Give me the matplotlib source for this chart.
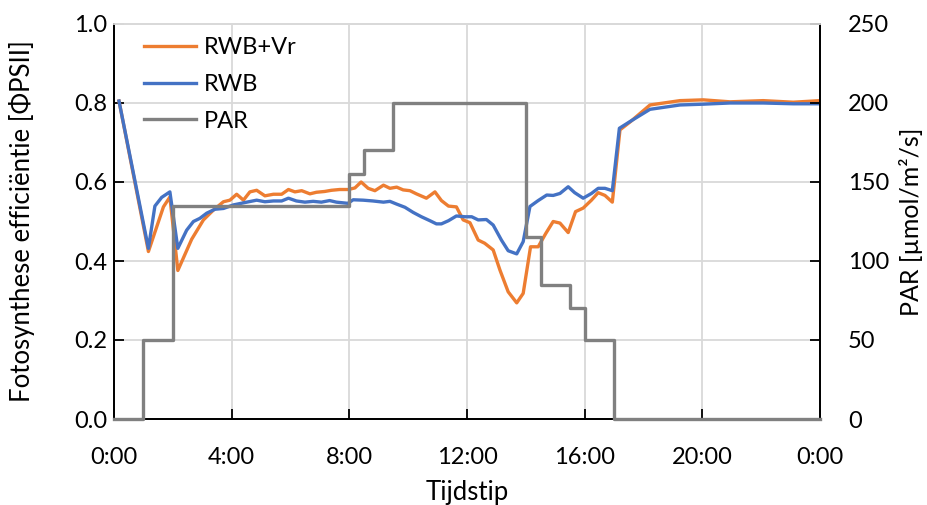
import matplotlib.pyplot as plt
from matplotlib.ticker import FixedLocator, FuncFormatter

plt.rcParams['font.family'] = ['Lato', 'DejaVu Sans']

# tijd in uren
t_vr = [0.17, 1.17, 1.68, 1.90, 2.17, 2.64, 3.04, 3.38, 3.72, 3.94, 4.17, 4.40,
        4.62, 4.85, 5.13, 5.42, 5.70, 5.93, 6.15, 6.38, 6.66, 6.88, 7.16, 7.39,
        7.67, 7.97, 8.19, 8.40, 8.64, 8.87, 9.16, 9.38, 9.61, 9.83, 10.06, 10.28,
        10.62, 10.91, 11.13, 11.37, 11.64, 11.87, 12.10, 12.38, 12.60, 12.89,
        13.12, 13.40, 13.69, 13.91, 14.16, 14.42, 14.68, 14.93, 15.16, 15.44,
        15.69, 15.95, 16.23, 16.46, 16.69, 16.94, 17.20, 17.56, 18.22, 19.24,
        20.03, 20.94, 22.07, 23.09, 24.0]
rwb_vr = [0.805, 0.424, 0.537, 0.562, 0.376, 0.455, 0.504, 0.529, 0.550, 0.554,
          0.569, 0.554, 0.575, 0.579, 0.565, 0.569, 0.569, 0.581, 0.575, 0.578,
          0.570, 0.574, 0.576, 0.579, 0.581, 0.581, 0.585, 0.600, 0.584, 0.578,
          0.592, 0.584, 0.587, 0.580, 0.578, 0.570, 0.559, 0.575, 0.553, 0.539,
          0.537, 0.504, 0.497, 0.453, 0.445, 0.428, 0.377, 0.322, 0.294, 0.318,
          0.436, 0.436, 0.470, 0.500, 0.496, 0.472, 0.525, 0.534, 0.554, 0.573,
          0.566, 0.549, 0.732, 0.753, 0.795, 0.806, 0.808, 0.803, 0.806, 0.802,
          0.806]

t_rwb = [0.17, 1.17, 1.39, 1.62, 1.90, 2.17, 2.47, 2.70, 2.92, 3.15, 3.43, 3.72,
         4.06, 4.45, 4.85, 5.13, 5.42, 5.70, 5.93, 6.20, 6.49, 6.77, 7.05, 7.33,
         7.56, 7.95, 8.13, 8.47, 8.80, 9.16, 9.38, 9.61, 9.89, 10.17, 10.45,
         10.74, 10.96, 11.13, 11.37, 11.64, 11.93, 12.16, 12.38, 12.66, 12.89,
         13.17, 13.40, 13.69, 13.91, 14.14, 14.42, 14.71, 14.93, 15.16, 15.44,
         15.66, 15.95, 16.23, 16.46, 16.69, 16.94, 17.18, 17.54, 18.22, 19.24,
         20.03, 20.94, 22.07, 23.09, 24.0]
rwb = [0.805, 0.432, 0.539, 0.561, 0.575, 0.432, 0.478, 0.500, 0.508, 0.521,
       0.531, 0.533, 0.542, 0.548, 0.554, 0.550, 0.552, 0.552, 0.559, 0.552,
       0.549, 0.551, 0.549, 0.553, 0.549, 0.546, 0.555, 0.554, 0.552, 0.549,
       0.551, 0.544, 0.536, 0.523, 0.512, 0.502, 0.494, 0.494, 0.502, 0.514,
       0.512, 0.512, 0.504, 0.505, 0.491, 0.453, 0.426, 0.418, 0.449, 0.538,
       0.553, 0.567, 0.566, 0.571, 0.588, 0.573, 0.559, 0.571, 0.584, 0.584,
       0.578, 0.736, 0.753, 0.784, 0.795, 0.797, 0.800, 0.800, 0.798, 0.798]

# PAR stappen (begin van elke stap)
t_par = [0, 1, 2, 8, 8.5, 9.5, 14, 14.5, 15.5, 16, 17, 24]
par = [0, 50, 135, 155, 170, 200, 115, 85, 70, 50, 0, 0]

xticks = [0, 4, 8, 12, 16, 20, 24]

fig = plt.figure(figsize=(9.27, 5.05), dpi=100)
ax = fig.add_axes([114/927, 86/505, 706/927, 395/505])
ax2 = ax.twinx()

l1, = ax.plot(t_vr, rwb_vr, color='#ED7D31', lw=2.4, label='RWB+Vr')
l2, = ax.plot(t_rwb, rwb, color='#4472C4', lw=2.4, label='RWB')
l3, = ax2.plot(t_par, par, color='#808080', lw=2.4, drawstyle='steps-post',
               label='PAR', clip_on=False, zorder=5)

ax.set_xlim(0, 24)
ax.set_ylim(0, 1.0)
ax2.set_ylim(0, 250)
ax.xaxis.set_major_locator(FixedLocator(xticks))
ax.xaxis.set_major_formatter(FuncFormatter(lambda v, p: '%d:00' % (int(v) % 24)))
ax.set_yticks([0, 0.2, 0.4, 0.6, 0.8, 1.0])
ax.yaxis.set_major_formatter(FuncFormatter(lambda v, p: '%.1f' % v))
ax2.set_yticks([0, 50, 100, 150, 200, 250])

ax.grid(True, color='#d9d9d9', lw=1.3)
ax.set_axisbelow(True)

for a in (ax, ax2):
    for s in a.spines.values():
        s.set_linewidth(1.3)
    a.spines['top'].set_color('#d9d9d9')

ax.tick_params(axis='both', direction='in', length=7, width=1.3, labelsize=17)
ax.tick_params(axis='x', pad=20)
ax.tick_params(axis='y', pad=5)
ax2.tick_params(axis='y', direction='in', length=7, width=1.3, labelsize=17, pad=20)

ax.set_xlabel('Tijdstip', fontsize=18.5, labelpad=9)
ax.set_ylabel('Fotosynthese efficiëntie [ΦPSII]', fontsize=18.5, labelpad=28)
ax2.set_ylabel('PAR [µmol/m²/s]', fontsize=18, labelpad=7)

ax2.legend(handles=[l1, l2, l3], loc='upper left', frameon=False, fontsize=17,
           handlelength=2.2, handletextpad=0.3, labelspacing=0.66,
           bbox_to_anchor=(0.013, 1.02))

fig.savefig('out.png', dpi=100)
